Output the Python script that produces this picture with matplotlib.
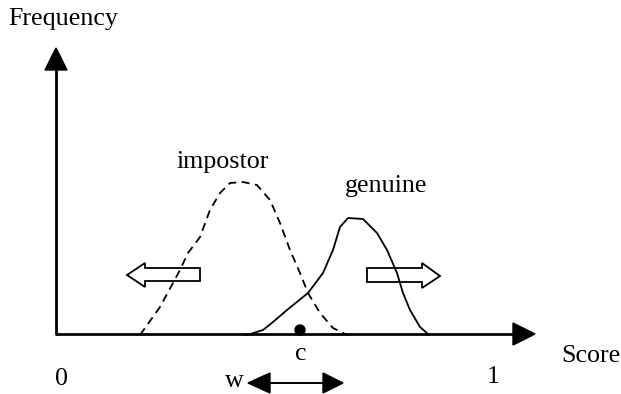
import matplotlib
matplotlib.use('Agg')
from matplotlib import pyplot as plt
from matplotlib.patches import Polygon, Circle

# curve points (canvas pixels, y grows downwards)
impostor_x = [140, 160, 180, 188, 200, 210, 220, 230, 243, 257, 270, 280, 290, 300, 308, 320, 333, 347]
impostor_y = [335, 307, 270, 253, 237, 210, 193, 183, 182, 185, 200, 223, 250, 273, 293, 313, 328, 335]

genuine_x = [247, 263, 273, 287, 308, 323, 333, 340, 348, 363, 377, 387, 397, 403, 410, 420, 428]
genuine_y = [335, 330, 322, 310, 293, 273, 250, 227, 218, 219, 233, 250, 273, 293, 310, 327, 334]

c_score = 300
labels = {'impostor': (223, 168), 'genuine': (386, 192)}

font = dict(family='Liberation Serif', fontsize=18.7, color='black')

fig = plt.figure(figsize=(6.21, 3.94), dpi=100)
ax = fig.add_axes([0, 0, 1, 1])
ax.set_xlim(0, 621)
ax.set_ylim(394, 0)
ax.axis('off')

# axes with filled arrow heads
ax.plot([56, 56], [70, 334], color='black', lw=2.0, solid_capstyle='butt')
ax.plot([55, 514], [334, 334], color='black', lw=2.0, solid_capstyle='butt')
ax.add_patch(Polygon([(45, 70), (56, 48), (67, 70)], closed=True, color='black'))
ax.add_patch(Polygon([(513, 323), (535, 334), (513, 345)], closed=True, color='black'))

# the two score distributions
ax.plot(impostor_x, impostor_y, color='black', lw=1.3, dashes=(4.5, 3), solid_joinstyle='round')
ax.plot(genuine_x, genuine_y, color='black', lw=1.3, solid_joinstyle='round')

# hollow arrows
left = [(127, 275), (145, 263), (145, 268), (200, 268), (200, 281), (145, 281), (145, 287)]
right = [(367, 268), (422, 268), (422, 263), (440, 276), (422, 288), (422, 282), (367, 282)]
for pts in (left, right):
    ax.add_patch(Polygon(pts, closed=True, facecolor='white', edgecolor='black', lw=1.3))

# threshold point c and window w
ax.add_patch(Circle((c_score, 330), 5, color='black'))
ax.plot([268, 325], [383, 383], color='black', lw=1.4)
ax.add_patch(Polygon([(248, 383), (270, 373), (270, 393)], closed=True, color='black'))
ax.add_patch(Polygon([(343, 383), (323, 373), (323, 393)], closed=True, color='black'))

ax.text(8, 25, 'Frequency', ha='left', va='baseline', **font)
for name, (x, y) in labels.items():
    ax.text(x, y, name, ha='center', va='baseline', **font)
ax.text(561, 362, 'Score', ha='left', va='baseline', **font)
ax.text(c_score + 1, 360, 'c', ha='center', va='baseline', **font)
ax.text(234, 387, 'w', ha='center', va='baseline', **font)
ax.text(62, 385, '0', ha='center', va='baseline', **font)
ax.text(493, 383, '1', ha='center', va='baseline', **font)

fig.savefig('out.png', dpi=100)
